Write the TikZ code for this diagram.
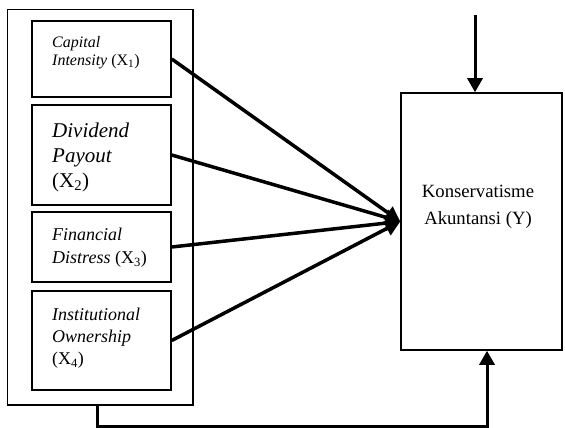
\documentclass[tikz,border=0pt]{standalone}
\usepackage{fontspec}
\setmainfont{Liberation Serif}
\usetikzlibrary{arrows.meta}

\begin{document}
\begin{tikzpicture}[x=1pt,y=-1pt]
	\useasboundingbox (0,0) rectangle (565,428);
	\tikzstyle{box}=[rectangle, draw=black, line width=1.5pt, minimum width=139pt, inner sep=0pt]
	\tikzstyle{txt}=[anchor=north west, align=left, inner sep=0pt]
	\node[box, minimum width=185.5pt, minimum height=395.5pt] (G) at (100.25,207.25) {};
	\node[box, minimum height=76pt] 	(A) at (101.5,59) {};
	\node[box, minimum height=100pt] 	(B) at (101.5,155) {};
	\node[box, minimum height=70pt] 	(C) at (101.5,247) {};
	\node[box, minimum height=99pt] 	(D) at (101.5,340.5) {};
	\node[box, minimum width=161pt, minimum height=257pt] (Y) at (481.5,221.5) {};
	
	\node[txt, font=\fontsize{16}{18}\selectfont] (tA) at (52,36) {\textit{Capital}\\\textit{Intensity} (X\textsubscript{1})};
	\node[txt, font=\fontsize{21}{25}\selectfont] (tB) at (52,123) {\textit{Dividend}\\\textit{Payout}\\(X\textsubscript{2})};
	\node[txt, font=\fontsize{18}{23}\selectfont] (tC) at (52,228) {\textit{Financial}\\\textit{Distress} (X\textsubscript{3})};
	\node[txt, font=\fontsize{18}{22}\selectfont] (tD) at (52,308) {\textit{Institutional}\\\textit{Ownership}\\(X\textsubscript{4})};
	\node[anchor=north, align=center, inner sep=0pt, font=\fontsize{18.7}{26.7}\selectfont] (tY) at (478,185) {Konservatisme\\Akuntansi (Y)};
	
	\coordinate (top) at (475,15);
	\coordinate (out) at (97,405);
	\coordinate (low) at (97,426);
	\coordinate (turn) at (487,426);
	\begin{scope}[-{Triangle[length=15pt,width=15pt]}, line width=3.5pt]
		\draw	(A.east) -- (Y.west);
		\draw	(B.east) -- (Y.west);
		\draw	(C.east) -- (Y.west);
		\draw	(D.east) -- (Y.west);
	\end{scope}
	\begin{scope}[-{Triangle[length=14pt,width=15pt]}, line width=3pt]
		\draw	(top) -- (top |- Y.north);
		\draw	(out) -- (low) -- (turn) -- (turn |- Y.south);
	\end{scope}
\end{tikzpicture}
\end{document}
